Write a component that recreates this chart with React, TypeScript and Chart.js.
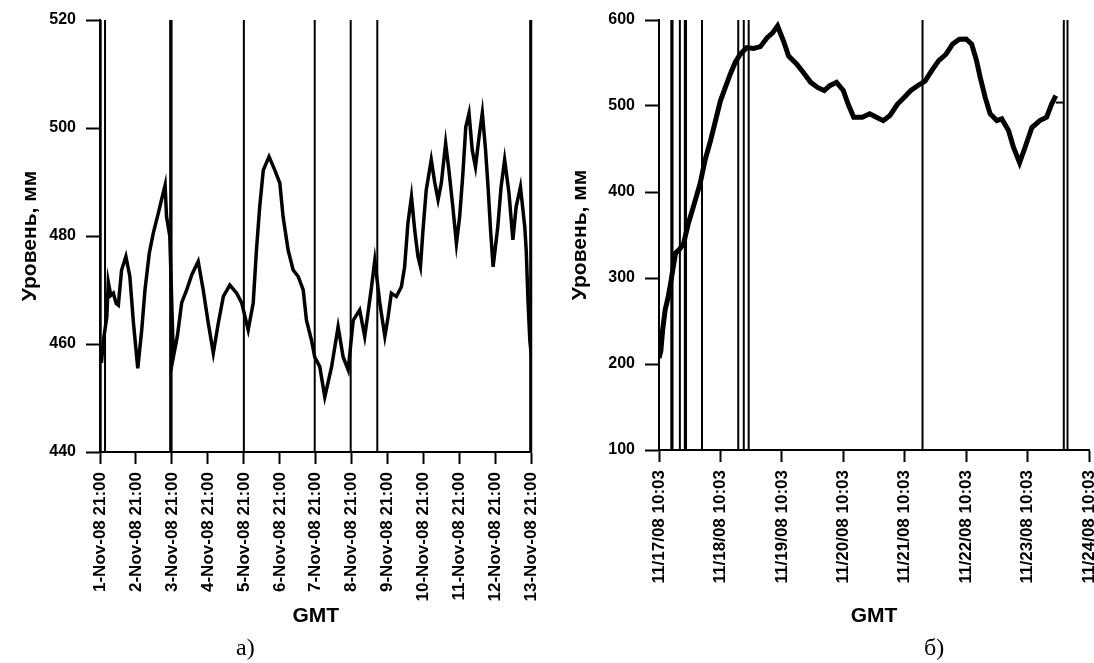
import React, { useEffect, useRef } from 'react';
import { Chart, registerables } from 'chart.js';

Chart.register(...registerables);

// ---------- Panel a) ----------
const leftXLabels = [
  '1-Nov-08 21:00', '2-Nov-08 21:00', '3-Nov-08 21:00', '4-Nov-08 21:00',
  '5-Nov-08 21:00', '6-Nov-08 21:00', '7-Nov-08 21:00', '8-Nov-08 21:00',
  '9-Nov-08 21:00', '10-Nov-08 21:00', '11-Nov-08 21:00', '12-Nov-08 21:00',
  '13-Nov-08 21:00',
];
const leftDays = [
  0.0, 0.04, 0.1, 0.19, 0.23, 0.3, 0.37, 0.45, 0.51, 0.6, 0.72, 0.83, 0.93, 1.05,
  1.16, 1.25, 1.37, 1.48, 1.62, 1.71, 1.81, 1.85, 1.94, 2.04, 2.15, 2.27, 2.41,
  2.55, 2.73, 2.87, 3.01, 3.15, 3.29, 3.43, 3.61, 3.8, 3.94, 4.12, 4.26, 4.35,
  4.44, 4.54, 4.7, 4.86, 5.0, 5.09, 5.23, 5.37, 5.51, 5.65, 5.74, 5.88, 5.97,
  6.11, 6.25, 6.44, 6.62, 6.76, 6.9, 7.04, 7.22, 7.36, 7.45, 7.55, 7.64, 7.78,
  7.92, 8.01, 8.1, 8.24, 8.38, 8.47, 8.56, 8.66, 8.75, 8.84, 8.91, 8.98, 9.07,
  9.21, 9.31, 9.4, 9.49, 9.61, 9.7, 9.81, 9.91, 10.0, 10.09, 10.17, 10.26, 10.35,
  10.44, 10.54, 10.63, 10.72, 10.79, 10.86, 10.93, 11.06, 11.15, 11.25, 11.37,
  11.48, 11.57, 11.69, 11.81, 11.85, 11.9, 11.95, 11.99,
];
const leftLevels = [
  459, 456.5, 461, 465, 471.5, 469, 469.4, 467.5, 467.2, 473.7, 476.2, 472.5,
  463.9, 455.5, 462.6, 470, 476.8, 480.5, 484.2, 486.7, 489.4, 483.6, 480, 457.6,
  461.4, 467.6, 470, 472.8, 475.3, 470, 463.9, 458.3, 463.9, 468.8, 470.9, 469.4,
  467.6, 462.6, 467.6, 477.4, 485.4, 492.2, 494.7, 492.2, 489.8, 483.6, 477.4,
  473.7, 472.5, 470, 464.4, 460.7, 457.6, 455.8, 450.2, 455.8, 463.2, 457.6,
  455.2, 464.4, 466.3, 461.4, 465.7, 470.6, 475.5, 467.6, 461.4, 465, 469.4,
  468.8, 470.6, 474.3, 482.3, 487.3, 481.1, 476.2, 474.3, 481.1, 488.5, 494.1,
  489.8, 486.7, 489.8, 497.2, 492.2, 485.4, 478.6, 483.6, 491.6, 500.2, 502.7,
  495.9, 492.8, 498.4, 502.8, 495.9, 489, 481, 474.3, 481.7, 489, 494.1, 488,
  479.3, 485.4, 489.1, 481.7, 477.4, 468, 460.7, 458,
];
const leftGapDays = [0.02, 0.14, 1.95, 1.99, 4.0, 5.97, 6.97, 7.71, 11.96, 11.99];

// ---------- Panel б) ----------
const rightXLabels = [
  '11/17/08 10:03', '11/18/08 10:03', '11/19/08 10:03', '11/20/08 10:03',
  '11/21/08 10:03', '11/22/08 10:03', '11/23/08 10:03', '11/24/08 10:03',
];
const rightDays = [
  0.0, 0.03, 0.06, 0.1, 0.15, 0.19, 0.23, 0.27, 0.33, 0.4, 0.48, 0.56, 0.67, 0.75,
  0.84, 0.92, 1.0, 1.08, 1.16, 1.24, 1.32, 1.43, 1.54, 1.65, 1.76, 1.85, 1.93,
  2.03, 2.11, 2.24, 2.35, 2.47, 2.58, 2.69, 2.78, 2.89, 3.0, 3.08, 3.17, 3.31,
  3.43, 3.54, 3.65, 3.76, 3.88, 3.99, 4.1, 4.21, 4.33, 4.44, 4.55, 4.67, 4.78,
  4.89, 5.0, 5.09, 5.17, 5.23, 5.31, 5.39, 5.5, 5.58, 5.69, 5.77, 5.87, 5.96,
  6.07, 6.2, 6.31, 6.39, 6.46,
];
const rightLevels = [
  207, 215, 240, 263, 278, 294, 312, 329, 333, 340, 364, 383, 410, 437, 460, 483,
  506, 521.6, 537, 550.6, 560, 568, 567, 569, 579.5, 585, 593, 575, 558, 549, 539,
  527.5, 521.6, 518, 523.6, 527.5, 518, 502, 487, 487, 491, 487, 483, 489, 502,
  510, 518, 523.6, 529, 541, 552.5, 560, 572, 577.7, 578, 572, 552.5, 533, 510,
  491, 483, 485, 471.5, 452, 434, 452, 475, 483, 487, 502, 512,
];
const rightTailDays = [6.46, 6.59];
const rightTailLevels = [504, 504];
const rightGapDays = [0.2, 0.22, 0.34, 0.42, 0.44, 0.7, 1.29, 1.38, 1.46, 4.29, 6.59, 6.65];

const SANS = '"Liberation Sans", Arial, sans-serif';

type PanelProps = {
  left: number;
  width: number;
  height: number;
  days: number[];
  levels: number[];
  gaps: number[];
  tailDays?: number[];
  tailLevels?: number[];
  xLabels: string[];
  yMin: number;
  yMax: number;
  yStep: number;
  lineWidth: number;
  yAxisWidth: number;
  padRight: number;
  xAxisHeight: number;
  yTitlePad: number;
  xTitlePad: number;
  yTickLen: number;
};

function Panel(p: PanelProps) {
  const ref = useRef<HTMLCanvasElement | null>(null);

  useEffect(() => {
    if (!ref.current) return;
    const datasets: any[] = [
      {
        data: p.days.map((d, i) => ({ x: d, y: p.levels[i] })),
        borderColor: '#000',
        borderWidth: p.lineWidth,
        pointRadius: 0,
        tension: 0,
        fill: false,
      },
    ];
    if (p.tailDays && p.tailLevels) {
      datasets.push({
        data: p.tailDays.map((d, i) => ({ x: d, y: p.tailLevels![i] })),
        borderColor: '#000',
        borderWidth: 2,
        pointRadius: 0,
        fill: false,
      });
    }
    p.gaps.forEach((g) => {
      datasets.push({
        data: [
          { x: g, y: p.yMin },
          { x: g, y: p.yMax },
        ],
        borderColor: '#000',
        borderWidth: 2,
        pointRadius: 0,
        fill: false,
        clip: false,
      });
    });

    const chart = new Chart(ref.current, {
      type: 'line',
      data: { datasets },
      options: {
        animation: false,
        responsive: false,
        devicePixelRatio: 1,
        events: [],
        layout: {
          autoPadding: false,
          padding: { top: 20, right: p.padRight, bottom: 0, left: 0 },
        },
        plugins: {
          legend: { display: false },
          tooltip: { enabled: false },
          title: { display: false },
        },
        scales: {
          x: {
            type: 'linear',
            min: 0,
            max: p.xLabels.length - 1,
            afterBuildTicks: (scale: any) => {
              scale.ticks = p.xLabels.map((_, i) => ({ value: i }));
            },
            afterFit: (scale: any) => {
              scale.height = p.xAxisHeight;
            },
            border: { display: true, color: '#000', width: 2 },
            grid: {
              display: true,
              drawOnChartArea: false,
              drawTicks: true,
              tickLength: 12,
              tickWidth: 2,
              tickColor: '#000',
              color: '#000',
            },
            ticks: {
              autoSkip: false,
              minRotation: 90,
              maxRotation: 90,
              padding: 8,
              color: '#000',
              font: { family: SANS, size: 17, weight: 'bold' },
              callback: (v: any) => p.xLabels[Math.round(Number(v))] ?? '',
            },
            title: {
              display: true,
              text: 'GMT',
              color: '#000',
              font: { family: SANS, size: 21, weight: 'bold' },
              padding: { top: 0, bottom: p.xTitlePad },
            },
          },
          y: {
            type: 'linear',
            min: p.yMin,
            max: p.yMax,
            afterBuildTicks: (scale: any) => {
              const t: any[] = [];
              for (let v = p.yMin; v <= p.yMax; v += p.yStep) t.push({ value: v });
              scale.ticks = t;
            },
            afterFit: (scale: any) => {
              scale.width = p.yAxisWidth;
            },
            border: { display: true, color: '#000', width: 2 },
            grid: {
              display: true,
              drawOnChartArea: false,
              drawTicks: true,
              tickLength: p.yTickLen,
              tickWidth: 2,
              tickColor: '#000',
              color: '#000',
            },
            ticks: {
              padding: 10,
              color: '#000',
              font: { family: SANS, size: 16, weight: 'bold' },
            },
            title: {
              display: true,
              text: 'Уровень, мм',
              color: '#000',
              font: { family: SANS, size: 21, weight: 'bold' },
              padding: { top: p.yTitlePad, bottom: 0 },
            },
          },
        },
      } as any,
    });
    return () => chart.destroy();
  }, []);

  return (
    <canvas
      ref={ref}
      width={p.width}
      height={p.height}
      style={{
        position: 'absolute',
        left: p.left,
        top: 0,
        width: p.width,
        height: p.height,
        display: 'block',
      }}
    />
  );
}

export default function App() {
  return (
    <div
      style={{
        position: 'absolute',
        left: 0,
        top: 0,
        width: 1094,
        height: 663,
        background: '#fff',
        overflow: 'hidden',
      }}
    >
      <Panel
        left={0}
        width={560}
        height={663}
        days={leftDays}
        levels={leftLevels}
        gaps={leftGapDays}
        xLabels={leftXLabels}
        yMin={440}
        yMax={520}
        yStep={20}
        lineWidth={3.5}
        yAxisWidth={100}
        padRight={28}
        xAxisHeight={211}
        yTitlePad={18}
        xTitlePad={34}
        yTickLen={14}
      />
      <Panel
        left={560}
        width={570}
        height={663}
        days={rightDays}
        levels={rightLevels}
        gaps={rightGapDays}
        tailDays={rightTailDays}
        tailLevels={rightTailLevels}
        xLabels={rightXLabels}
        yMin={100}
        yMax={600}
        yStep={100}
        lineWidth={5}
        yAxisWidth={99}
        padRight={41}
        xAxisHeight={213}
        yTitlePad={8}
        xTitlePad={34}
        yTickLen={14}
      />
      <div
        style={{
          position: 'absolute',
          left: 236,
          top: 633,
          fontFamily: '"Liberation Serif", "Times New Roman", serif',
          fontSize: 24,
          lineHeight: '28px',
          color: '#000',
        }}
      >
        а)
      </div>
      <div
        style={{
          position: 'absolute',
          left: 924,
          top: 633,
          fontFamily: '"Liberation Serif", "Times New Roman", serif',
          fontSize: 24,
          lineHeight: '28px',
          color: '#000',
        }}
      >
        б)
      </div>
    </div>
  );
}
